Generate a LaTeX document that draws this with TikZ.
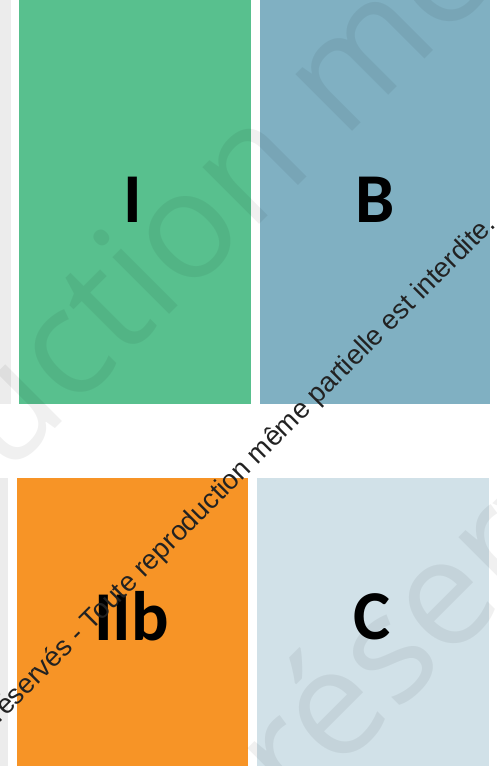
\documentclass[tikz,border=0pt]{standalone}
\usepackage{fontspec}
\setmainfont{Liberation Sans}
\newfontfamily\labelfont{Carlito}
\newfontfamily\markfont{Open Sans}
\definecolor{groupI}{RGB}{88,192,142}
\definecolor{groupB}{RGB}{128,176,194}
\definecolor{groupIIb}{RGB}{247,148,38}
\definecolor{groupC}{RGB}{209,225,232}
\definecolor{stripgray}{RGB}{236,236,236}
\definecolor{notice}{RGB}{34,34,34}
\tikzset{block/.style={anchor=south west,inner sep=0pt,outer sep=0pt},
 grouplabel/.style={inner sep=0pt,font=\labelfont\bfseries\fontsize{70}{70}\selectfont},
 watermark/.style={inner sep=0pt,rotate=45,text=black,text opacity=.06,
  font=\markfont\fontsize{150}{150}\selectfont},
 noticetext/.style={anchor=base east,inner sep=0pt,rotate=45,text=notice,
  font=\fontsize{27.5}{27.5}\selectfont}}

\begin{document}
\begin{tikzpicture}[x=1pt,y=1pt]
\useasboundingbox (0,0) rectangle (497,766);
\clip (0,0) rectangle (497,766);
\fill[white] (0,0) rectangle (497,766);
\fill[stripgray] (0,362) rectangle (11,766);
\fill[stripgray] (0,0) rectangle (8,288);
% top row
\node[block,fill=groupI,minimum width=232pt,minimum height=404pt] (blkI) at (19,362) {};
\node[block,fill=groupB,minimum width=230pt,minimum height=404pt] (blkB) at (260,362) {};
% bottom row
\node[block,fill=groupIIb,minimum width=231pt,minimum height=288pt] (blkIIb) at (17,0) {};
\node[block,fill=groupC,minimum width=232pt,minimum height=288pt] (blkC) at (257,0) {};
\node[grouplabel] (labI) at ([xshift=-2pt,yshift=2pt]blkI.center) {I};
\node[grouplabel] (labB) at ([yshift=2pt]blkB.center) {B};
\node[grouplabel] (labIIb) at ([xshift=-1pt,yshift=6pt]blkIIb.center) {IIb};
\node[grouplabel] (labC) at ([xshift=-1pt,yshift=5pt]blkC.center) {C};
% faint background marks
\coordinate (markA) at (72,354);
\node[watermark,anchor=base east] at (markA) {reprodu};
\node[watermark,anchor=base west] at (markA) {ction même partielle};
\coordinate (markB) at (396,52);
\node[watermark,anchor=base east] at (markB) {ré};
\node[watermark,anchor=base west] at (markB) {servés - Toute};
\node[noticetext] (note) at (497,540) {réservés - Toute reproduction même partielle est interdite.};
\end{tikzpicture}
\end{document}
